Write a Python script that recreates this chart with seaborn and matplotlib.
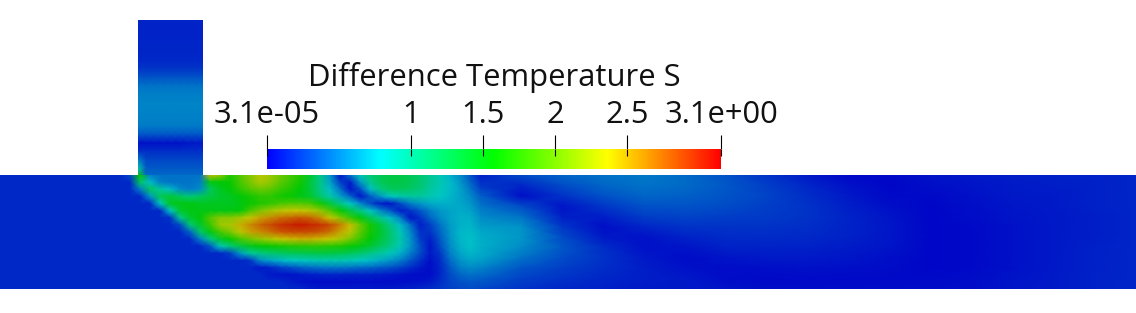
import numpy as np
import matplotlib
matplotlib.use("Agg")
import matplotlib.pyplot as plt
from matplotlib.cm import ScalarMappable
from matplotlib.colors import LinearSegmentedColormap, Normalize
import seaborn as sns

W, H = 1136, 313
VMAX = 3.15

title = "Difference Temperature S"
tick_values = [0.000031, 1, 1.5, 2, 2.5, VMAX]
tick_labels = ["3.1e-05", "1", "1.5", "2", "2.5", "3.1e+00"]

# Temperature difference in the inlet channel, top to bottom (x = 138..203 px)
channel_field = [
    [.14, .14, .14, .14, .14, .14, .14, .14, .14],
    [.14, .14, .14, .14, .14, .14, .14, .14, .14],
    [.14, .14, .14, .14, .14, .14, .14, .14, .14],
    [.15, .15, .15, .15, .15, .15, .15, .15, .15],
    [.15, .15, .15, .15, .15, .15, .15, .15, .15],
    [.16, .16, .16, .16, .16, .16, .16, .16, .16],
    [.22, .22, .22, .22, .22, .22, .22, .22, .22],
    [.33, .33, .33, .33, .33, .33, .33, .33, .33],
    [.45, .45, .45, .45, .45, .45, .45, .45, .45],
    [.50, .50, .50, .50, .50, .50, .50, .50, .50],
    [.52, .52, .52, .52, .52, .52, .52, .52, .52],
    [.52, .52, .52, .52, .52, .52, .52, .52, .52],
    [.51, .51, .51, .51, .51, .51, .51, .51, .51],
    [.48, .48, .48, .48, .48, .48, .48, .48, .48],
    [.33, .33, .33, .33, .33, .33, .33, .33, .33],
    [.07, .07, .07, .07, .07, .07, .09, .10, .10],
    [.19, .19, .19, .19, .19, .19, .19, .19, .19],
    [.50, .28, .28, .28, .28, .28, .28, .28, .28],
    [.90, .35, .35, .35, .35, .35, .35, .35, .35],
    [1.6, .42, .42, .42, .42, .42, .42, .42, .42],
]

# Main duct, near region: rows y = 175..289 px, columns x = 120..480 px every 10 px
near_field = [
    [.16, .30, 1.6, .50, .45, .45, .45, .45, .45, 2.4, 2.2, 1.7, 1.9, 2.1, 2.3, 2.2, 2.0, 1.85, 1.7, 1.4, 1.05, .60, .08, .45, .85, 1.1, 1.25, 1.3, 1.3, 1.25, 1.15, 1.0, .85, .70, .55, .35, .12],
    [.16, .16, 1.2, .75, .50, .45, .45, .45, .50, 1.5, 1.55, 1.6, 1.85, 2.05, 2.25, 2.15, 1.95, 1.8, 1.65, 1.35, 1.05, .65, .25, .12, .60, 1.0, 1.22, 1.3, 1.3, 1.25, 1.15, 1.0, .88, .75, .60, .40, .20],
    [.16, .16, .50, 1.2, .95, .75, .55, .50, .55, 1.2, 1.45, 1.55, 1.75, 1.9, 2.0, 1.95, 1.8, 1.7, 1.55, 1.35, 1.05, .75, .45, .08, .30, .75, 1.05, 1.2, 1.22, 1.18, 1.1, .95, .85, .75, .65, .48, .28],
    [.16, .16, .16, .60, 1.25, 1.35, 1.2, 1.1, 1.2, 1.3, 1.4, 1.45, 1.55, 1.65, 1.75, 1.75, 1.65, 1.6, 1.5, 1.4, 1.15, .90, .65, .40, .08, .35, .60, .80, .90, .95, .95, .88, .80, .72, .65, .55, .38],
    [.16, .16, .16, .16, .80, 1.45, 1.5, 1.5, 1.45, 1.45, 1.45, 1.45, 1.5, 1.6, 1.7, 1.75, 1.85, 1.9, 1.9, 1.85, 1.65, 1.35, 1.05, .80, .55, .30, .12, .08, .30, .50, .60, .68, .70, .70, .66, .60, .45],
    [.16, .16, .16, .16, .16, .80, 1.4, 1.5, 1.5, 1.5, 1.5, 1.5, 1.55, 1.85, 2.05, 2.2, 2.3, 2.35, 2.35, 2.3, 2.15, 1.9, 1.6, 1.3, 1.05, .80, .55, .35, .12, .20, .35, .50, .60, .65, .68, .65, .52],
    [.16, .16, .16, .16, .16, .20, 1.0, 1.4, 1.55, 1.9, 2.1, 2.1, 2.2, 2.35, 2.5, 2.6, 2.7, 2.75, 2.8, 2.75, 2.6, 2.35, 2.1, 1.8, 1.55, 1.25, 1.0, .75, .50, .08, .20, .40, .55, .65, .70, .70, .58],
    [.16, .16, .16, .16, .16, .16, .30, 1.1, 1.4, 1.8, 2.2, 2.25, 2.45, 2.6, 2.75, 2.85, 2.95, 3.0, 3.05, 3.0, 2.95, 2.85, 2.65, 2.4, 2.0, 1.65, 1.35, 1.05, .75, .45, .12, .25, .45, .62, .70, .72, .62],
    [.16, .16, .16, .16, .16, .16, .16, .40, 1.15, 1.5, 1.85, 2.05, 2.3, 2.5, 2.6, 2.7, 2.8, 2.85, 2.85, 2.85, 2.8, 2.7, 2.5, 2.3, 1.95, 1.65, 1.4, 1.15, .85, .55, .20, .20, .40, .60, .72, .75, .68],
    [.16, .16, .16, .16, .16, .16, .16, .16, .50, 1.05, 1.4, 1.6, 1.85, 2.0, 2.15, 2.25, 2.35, 2.4, 2.45, 2.45, 2.4, 2.35, 2.25, 2.05, 1.8, 1.55, 1.35, 1.15, .90, .60, .25, .12, .35, .58, .72, .76, .70],
    [.16, .16, .16, .16, .16, .16, .16, .16, .16, .35, .85, 1.1, 1.3, 1.45, 1.55, 1.6, 1.65, 1.7, 1.72, 1.75, 1.75, 1.72, 1.68, 1.6, 1.5, 1.38, 1.22, 1.05, .85, .60, .32, .08, .30, .55, .70, .76, .70],
    [.16, .16, .16, .16, .16, .16, .16, .16, .16, .16, .16, .25, .60, .95, 1.05, 1.12, 1.18, 1.22, 1.25, 1.28, 1.3, 1.3, 1.27, 1.22, 1.15, 1.05, .95, .85, .70, .50, .30, .10, .22, .50, .65, .72, .68],
    [.16, .16, .16, .16, .16, .16, .16, .16, .16, .16, .16, .16, .16, .20, .55, .65, .72, .80, .82, .85, .88, .88, .88, .85, .80, .75, .68, .60, .50, .35, .20, .06, .18, .42, .58, .65, .62],
    [.16, .16, .16, .16, .16, .16, .16, .16, .16, .16, .16, .16, .16, .16, .10, .15, .25, .30, .38, .42, .45, .47, .47, .45, .42, .40, .36, .32, .26, .18, .10, .05, .15, .35, .50, .55, .52],
    [.16, .16, .16, .16, .16, .16, .16, .16, .16, .16, .16, .16, .16, .16, .16, .10, .08, .08, .10, .12, .14, .15, .15, .14, .14, .13, .12, .10, .08, .06, .05, .05, .15, .30, .40, .45, .42],
    [.16, .16, .16, .16, .16, .16, .16, .16, .16, .16, .16, .16, .16, .16, .16, .16, .16, .12, .08, .06, .05, .05, .05, .05, .06, .06, .05, .05, .05, .06, .07, .10, .18, .27, .32, .35, .33],
    [.16, .16, .16, .16, .16, .16, .16, .16, .16, .16, .16, .16, .16, .16, .16, .16, .16, .16, .16, .12, .10, .10, .10, .10, .10, .10, .10, .10, .12, .14, .16, .18, .22, .26, .28, .30, .28],
]

# Main duct, far region: rows y = 175..289 px, columns x = 480..1136 px every 41 px
far_field = [
    [.12, .30, .40, .45, .48, .42, .32, .20, .10, .03, .04, .08, .10, .12, .13, .14, .15],
    [.22, .15, .30, .40, .45, .42, .35, .25, .15, .07, .03, .06, .08, .11, .12, .13, .15],
    [.38, .06, .20, .32, .40, .38, .33, .27, .18, .10, .04, .04, .07, .10, .11, .13, .15],
    [.47, .30, .08, .22, .32, .33, .30, .25, .20, .12, .06, .03, .06, .09, .11, .13, .15],
    [.55, .45, .12, .12, .25, .27, .25, .23, .20, .14, .08, .03, .05, .08, .10, .12, .15],
    [.63, .58, .22, .06, .15, .20, .20, .20, .18, .14, .09, .03, .04, .07, .10, .12, .15],
    [.69, .60, .30, .10, .07, .14, .17, .17, .16, .13, .09, .03, .04, .07, .10, .12, .15],
    [.70, .55, .35, .18, .07, .08, .13, .13, .13, .11, .08, .03, .04, .07, .10, .13, .15],
    [.66, .45, .30, .20, .10, .05, .08, .10, .10, .09, .06, .03, .04, .07, .10, .13, .15],
    [.52, .33, .25, .18, .12, .07, .05, .06, .07, .06, .05, .03, .04, .07, .10, .13, .15],
    [.38, .26, .20, .15, .12, .10, .05, .04, .04, .04, .04, .04, .05, .08, .11, .14, .15],
    [.28, .20, .15, .13, .10, .10, .08, .06, .05, .05, .05, .05, .06, .09, .11, .14, .15],
]

# Undisturbed fluid upstream of the jet
upstream_field = [[.16, .16], [.16, .16]]

sns.set_theme(style="white")
plt.rcParams["font.family"] = ["Open Sans", "DejaVu Sans"]

rainbow = ["#0000ff", "#00ffff", "#00ff00", "#ffff00", "#ff0000"]
shaded = [tuple(0.78 * c for c in matplotlib.colors.to_rgb(h)) for h in rainbow]
bar_cmap = LinearSegmentedColormap.from_list("bar", rainbow, N=512)
field_cmap = LinearSegmentedColormap.from_list("field", shaded, N=512)

fig = plt.figure(figsize=(W / 100, H / 100), dpi=100, facecolor="white")


def pixel_axes(x0, x1, y0, y1):
    return fig.add_axes([x0 / W, 1 - y1 / H, (x1 - x0) / W, (y1 - y0) / H])


def draw_field(values, x0, x1, y0, y1):
    ax = pixel_axes(x0, x1, y0, y1)
    grid = np.array(values, dtype=float)
    sns.heatmap(grid, ax=ax, cmap=field_cmap, vmin=0, vmax=VMAX, cbar=False,
                xticklabels=False, yticklabels=False, shading="gouraud")
    ax.set_xlim(0, grid.shape[1] - 1)
    ax.set_ylim(grid.shape[0] - 1, 0)
    return ax


draw_field(channel_field, 138, 203, 20, 176)
draw_field(far_field, 480, 1136, 175, 289)
draw_field(near_field, 120, 480, 175, 289)
draw_field(upstream_field, 0, 120, 175, 289)

# Scalar bar with its ticks rising above the colour strip
cax = pixel_axes(267, 721, 149, 169)
cb = fig.colorbar(ScalarMappable(Normalize(0, VMAX), bar_cmap), cax=cax,
                  orientation="horizontal")
cb.outline.set_visible(False)
cax.xaxis.set_ticks_position("top")
cax.set_xticks(tick_values)
cax.set_xticklabels(tick_labels, fontsize=22.2, color="#111111")
cax.tick_params(axis="x", length=10, width=0.8, color="black", pad=3.8, top=True, bottom=False)
cax.vlines(tick_values, 0.65, 1, transform=cax.get_xaxis_transform(), color="black", lw=0.8, clip_on=False)

fig.text(494.5 / W, 1 - 77.5 / H, title, ha="center", va="center", fontsize=22.3, color="#111111")

fig.savefig("out.png", dpi=100)
